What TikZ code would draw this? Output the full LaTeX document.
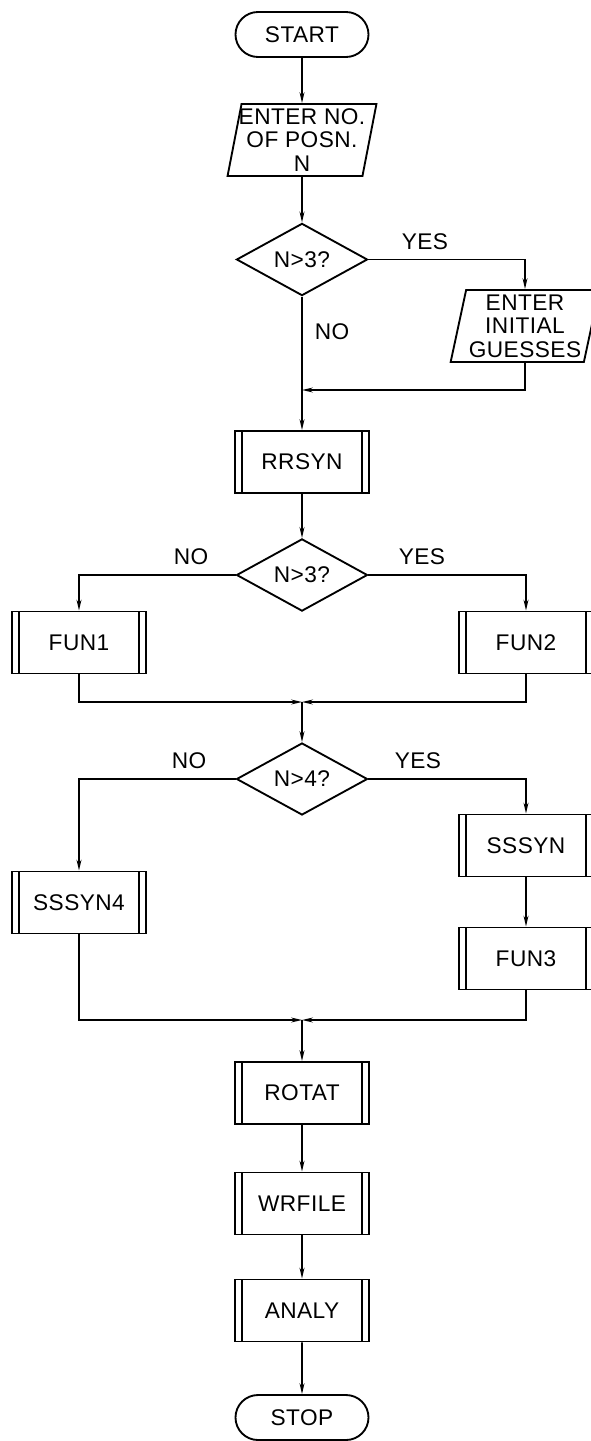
\documentclass[tikz,border=0pt]{standalone}
\usepackage{fontspec}
\setmainfont{Liberation Sans}[LetterSpace=2]
\usepackage{tikz}
\usetikzlibrary{shapes}
\usetikzlibrary{arrows.meta}
\tikzset{
  every node/.append style={font=\fontsize{17}{17.5}\selectfont},
  flowline/.style={line width=1.4pt,-{Stealth[length=8pt,width=3.6pt]}},
  termbox/.style={draw,line width=1.4pt,rounded rectangle,minimum width=101.25pt,minimum height=33.75pt,inner sep=0.75pt},
  iobox/.style={draw,line width=1.4pt,trapezium,trapezium left angle=78,trapezium right angle=102,trapezium stretches=true,minimum width=111.75pt,minimum height=54pt,inner xsep=-3pt,inner ysep=0.75pt,align=center},
  decbox/.style={draw,line width=1.4pt,diamond,minimum width=98.25pt,minimum height=53pt,inner sep=0pt},
  subbox/.style={draw,line width=1.4pt,rectangle,minimum width=100.5pt,minimum height=46.5pt,inner sep=0.75pt,
    path picture={\draw[line width=1.4pt] ([xshift=5.25pt]path picture bounding box.north west) -- ([xshift=5.25pt]path picture bounding box.south west);
      \draw[line width=1.4pt] ([xshift=-5.25pt]path picture bounding box.north east) -- ([xshift=-5.25pt]path picture bounding box.south east);}},
  yesno/.style={inner sep=0.75pt}
}
\begin{document}
\begin{tikzpicture}[x=0.75pt,y=0.75pt,yscale=-1,xscale=1]
\useasboundingbox (0,0) rectangle (591,1441);
\draw (302,34.5) node [termbox] (start) {START};
\draw (302,140) node [iobox] (in1) {ENTER NO.\\OF POSN.\\N};
\draw (302,259.5) node [decbox] (dec1) {N>3?};
\draw (525,326) node [iobox] (in2) {ENTER\\INITIAL\\GUESSES};
\draw (302,462) node [subbox] (rrsyn) {RRSYN};
\draw (302,575) node [decbox] (dec2) {N>3?};
\draw (79,642.5) node [subbox] (fun1) {FUN1};
\draw (526,642.5) node [subbox] (fun2) {FUN2};
\draw (302,779) node [decbox] (dec3) {N>4?};
\draw (526,845.5) node [subbox] (sssyn) {SSSYN};
\draw (526,958.5) node [subbox] (fun3) {FUN3};
\draw (79,902.5) node [subbox] (sssyn4) {SSSYN4};
\draw (302,1093) node [subbox] (rotat) {ROTAT};
\draw (302,1203.5) node [subbox] (wrfile) {WRFILE};
\draw (302,1310.5) node [subbox] (analy) {ANALY};
\draw (302,1417.5) node [termbox] (stop) {STOP};
\coordinate (m1) at (302,390);
\coordinate (m2) at (302,702);
\coordinate (m3) at (302,1020);
\draw (425,242) node [yesno] (yes1) {YES};
\draw (332,332) node [yesno] (no1) {NO};
\draw (422,557) node [yesno] (yes2) {YES};
\draw (191,557) node [yesno] (no2) {NO};
\draw (418,761) node [yesno] (yes3) {YES};
\draw (189,761) node [yesno] (no3) {NO};
\draw [flowline]   (start) -- (in1) ;
\draw [flowline]   (in1) -- (dec1) ;
\draw [flowline]   (dec1.east) -| (in2) ;
\draw [flowline]   (in2) |- (m1) ;
\draw [flowline]   (dec1) -- (rrsyn) ;
\draw [flowline]   (rrsyn) -- (dec2) ;
\draw [flowline]   (dec2.west) -| (fun1) ;
\draw [flowline]   (dec2.east) -| (fun2) ;
\draw [flowline]   (fun1) |- (m2) ;
\draw [flowline]   (fun2) |- (m2) ;
\draw [flowline]   (m2) -- (dec3) ;
\draw [flowline]   (dec3.west) -| (sssyn4) ;
\draw [flowline]   (dec3.east) -| (sssyn) ;
\draw [flowline]   (sssyn) -- (fun3) ;
\draw [flowline]   (sssyn4) |- (m3) ;
\draw [flowline]   (fun3) |- (m3) ;
\draw [flowline]   (m3) -- (rotat) ;
\draw [flowline]   (rotat) -- (wrfile) ;
\draw [flowline]   (wrfile) -- (analy) ;
\draw [flowline]   (analy) -- (stop) ;
\end{tikzpicture}
\end{document}
